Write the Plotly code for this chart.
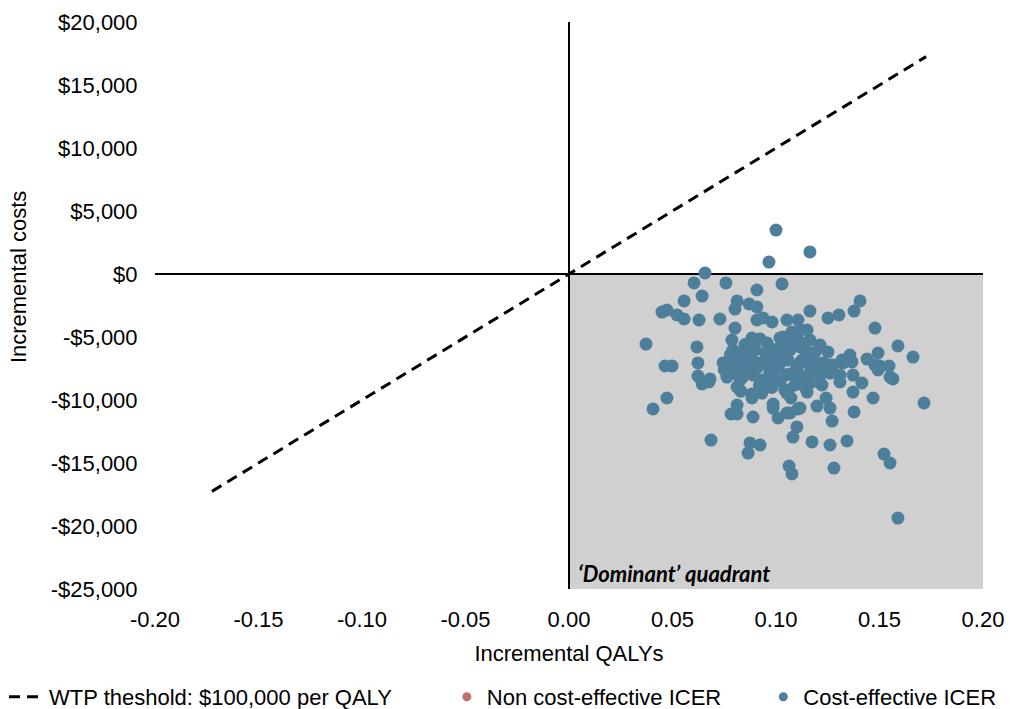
import plotly.graph_objects as go

# Incremental QALYs / incremental costs (cost-effective ICER simulations)
qaly = [0.100, 0.0966, 0.1164, 0.0657, 0.0604, 0.0758, 0.1029, 0.0908, 0.0643, 0.0556,
        0.0812, 0.0870, 0.0908, 0.0802, 0.1164, 0.0449, 0.0473, 0.0522, 0.0556, 0.0628,
        0.0729, 0.0908, 0.0937, 0.0981, 0.1053, 0.1106, 0.0802, 0.1150, 0.0372, 0.0618,
        0.0464, 0.0498, 0.0623, 0.0623, 0.0681, 0.1406, 0.1377, 0.1304, 0.1251, 0.1478,
        0.1589, 0.1662, 0.1493, 0.1440, 0.1502, 0.1546, 0.1551, 0.1357, 0.1319, 0.1251,
        0.1213, 0.1372, 0.1415, 0.1565, 0.1493, 0.1715, 0.1469, 0.1372, 0.1198, 0.1242,
        0.1261, 0.1377, 0.1271, 0.1174, 0.1261, 0.1343, 0.1522, 0.1551, 0.1280, 0.1589,
        0.1222, 0.1309, 0.0406, 0.0473, 0.0643, 0.0676, 0.0686, 0.0783, 0.0812, 0.0812,
        0.0889, 0.0884, 0.0986, 0.0986, 0.1010, 0.1068, 0.1106, 0.1072, 0.1058, 0.1150,
        0.1164, 0.1101, 0.1082, 0.0874, 0.0923, 0.0865, 0.1063, 0.1077, 0.0763, 0.0826,
        0.0812, 0.0884, 0.0923, 0.0957, 0.1019, 0.1053, 0.0787, 0.0792, 0.0792, 0.0836,
        0.0850, 0.0744, 0.0899, 0.0932, 0.0995, 0.1034, 0.1010, 0.1077, 0.1116, 0.1034,
        0.1101, 0.1164, 0.1029, 0.1068, 0.1116, 0.1150, 0.1058, 0.1126, 0.1179, 0.1261,
        0.1213, 0.1478, 0.0763, 0.0826, 0.0865, 0.0908, 0.0971, 0.1019, 0.0787, 0.0836,
        0.0889, 0.0937, 0.0986, 0.0884, 0.0932, 0.1053, 0.1116, 0.1227, 0.1275, 0.1324,
        0.1367, 0.1068, 0.1116, 0.1164, 0.1213, 0.1261, 0.1309, 0.1043, 0.1092, 0.1140,
        0.1213, 0.1053, 0.1116,
        0.085, 0.090, 0.095, 0.100, 0.097, 0.105, 0.110, 0.114, 0.118, 0.124,
        0.092, 0.098, 0.083, 0.078, 0.075, 0.087, 0.104, 0.109, 0.113, 0.119,
        0.102, 0.111, 0.095, 0.080, 0.086]
cost = [3490, 950, 1750, 80, -710, -710, -790, -1270, -1750, -2140,
        -2140, -2380, -2620, -2780, -2940, -3020, -2860, -3250, -3570, -3650,
        -3570, -3650, -3490, -3810, -3650, -3650, -4290, -4440, -5560, -5790,
        -7300, -7300, -7060, -8100, -8330, -2140, -2940, -3250, -3490, -4290,
        -5710, -6590, -6270, -6750, -7300, -7300, -8180, -6430, -6830, -6190,
        -5640, -8020, -8650, -8330, -7620, -10240, -9840, -9370, -10480, -9840,
        -10640, -10950, -11670, -13330, -13570, -13250, -14290, -15000, -15400, -19370,
        -8810, -8570, -10710, -9840, -8730, -8570, -13180, -11110, -10400, -11110,
        -11350, -9840, -10320, -10640, -11430, -11030, -10710, -9840, -9210, -9370,
        -8650, -12140, -12940, -13410, -13570, -14210, -15240, -15870, -8180, -8410,
        -8970, -5080, -5160, -5480, -5080, -5240, -5240, -6030, -6670, -6190,
        -6830, -7060, -6980, -7060, -6670, -6830, -7460, -4600, -4440, -5000,
        -5080, -5240, -5870, -6030, -5790, -6190, -6830, -6830, -6830, -7220,
        -7380, -7220, -7220, -7380, -7220, -7460, -7380, -7060, -7860, -8250,
        -8020, -8410, -8250, -9520, -9450, -9450, -7060, -7060, -7220, -7060,
        -6980, -7940, -8020, -7860, -8020, -7860, -8020, -9210, -8810, -8970,
        -8650, -11030, -10640,
        -5600, -6000, -6300, -6000, -7800, -8000, -7500, -7000, -7600, -7700,
        -8800, -9000, -9300, -6400, -7600, -6300, -6400, -5600, -5500, -6200,
        -8500, -8300, -7100, -7000, -7700]

# WTP threshold line ($100,000 per QALY)
wtp_qaly = [-0.1725, 0.1725]
wtp_per_qaly = 100000
wtp_cost = [q * wtp_per_qaly for q in wtp_qaly]

x_tick_vals = [-0.20, -0.15, -0.10, -0.05, 0.00, 0.05, 0.10, 0.15, 0.20]
x_tick_text = ["-0.20", "-0.15", "-0.10", "-0.05", "0.00", "0.05", "0.10", "0.15", "0.20"]
y_tick_vals = [20000, 15000, 10000, 5000, 0, -5000, -10000, -15000, -20000, -25000]
y_tick_text = ["$20,000", "$15,000", "$10,000", "$5,000", "$0", "-$5,000", "-$10,000",
               "-$15,000", "-$20,000", "-$25,000"]

BLUE = "#4d7f9a"
PINK = "#c0706f"
FONT = "Liberation Sans, Arial, sans-serif"

fig = go.Figure()

fig.add_trace(go.Scatter(x=wtp_qaly, y=wtp_cost, mode="lines",
                         line=dict(color="black", width=3, dash="11px,7px"),
                         name="WTP theshold: $100,000 per QALY", legend="legend"))
fig.add_trace(go.Scatter(x=[None], y=[None], mode="markers",
                         marker=dict(color=PINK, size=9),
                         name="Non cost-effective ICER", legend="legend2"))
fig.add_trace(go.Scatter(x=qaly, y=cost, mode="markers",
                         marker=dict(color=BLUE, size=13),
                         name="Cost-effective ICER", showlegend=False))
fig.add_trace(go.Scatter(x=[None], y=[None], mode="markers",
                         marker=dict(color=BLUE, size=9),
                         name="Cost-effective ICER", legend="legend3"))

fig.add_shape(type="rect", x0=0, x1=0.2, y0=-25000, y1=0,
              fillcolor="#d0d0d0", line=dict(width=0), layer="below")

fig.add_annotation(x=0.0035, y=-23750, xanchor="left", yanchor="middle",
                   text="<b><i>‘Dominant’ quadrant</i></b>", showarrow=False,
                   font=dict(family="Lato, Open Sans, sans-serif", size=22, color="black"))

# y-axis title placed as a rotated annotation
fig.add_annotation(xref="paper", yref="paper", x=-0.1655, y=0.55,
                   text="Incremental costs", textangle=-90, showarrow=False,
                   xanchor="center", yanchor="middle",
                   font=dict(family=FONT, size=22, color="black"))

leg_common = dict(orientation="h", xref="container", yref="container",
                  y=0.017, xanchor="left", yanchor="middle",
                  font=dict(family=FONT, size=22, color="black"),
                  bgcolor="rgba(0,0,0,0)")

fig.update_layout(
    width=1011, height=709,
    margin=dict(l=155, r=28, t=22, b=120, autoexpand=False),
    plot_bgcolor="white", paper_bgcolor="white",
    font=dict(family=FONT, size=22, color="black"),
    showlegend=True,
    legend=dict(x=0.004, itemwidth=35, **leg_common),
    legend2=dict(x=0.442, itemwidth=30, **leg_common),
    legend3=dict(x=0.755, itemwidth=30, **leg_common),
    xaxis=dict(range=[-0.2, 0.2], tickvals=x_tick_vals, ticktext=x_tick_text,
               automargin=False,
               showgrid=False, zeroline=True, zerolinecolor="black", zerolinewidth=1.5,
               showline=False, ticks="outside", ticklen=11, tickcolor="rgba(0,0,0,0)",
               tickfont=dict(size=22),
               title=dict(text="Incremental QALYs", standoff=14, font=dict(size=22))),
    yaxis=dict(range=[-25000, 20000], tickvals=y_tick_vals, ticktext=y_tick_text,
               automargin=False,
               showgrid=False, zeroline=True, zerolinecolor="black", zerolinewidth=1.5,
               showline=False, ticks="outside", ticklen=12, tickcolor="rgba(0,0,0,0)",
               tickfont=dict(size=22)),
)

fig.write_html("out.html", config={"displayModeBar": False},
               post_script="document.body.style.margin='0';document.body.style.padding='0';window.dispatchEvent(new Event('resize'));")
